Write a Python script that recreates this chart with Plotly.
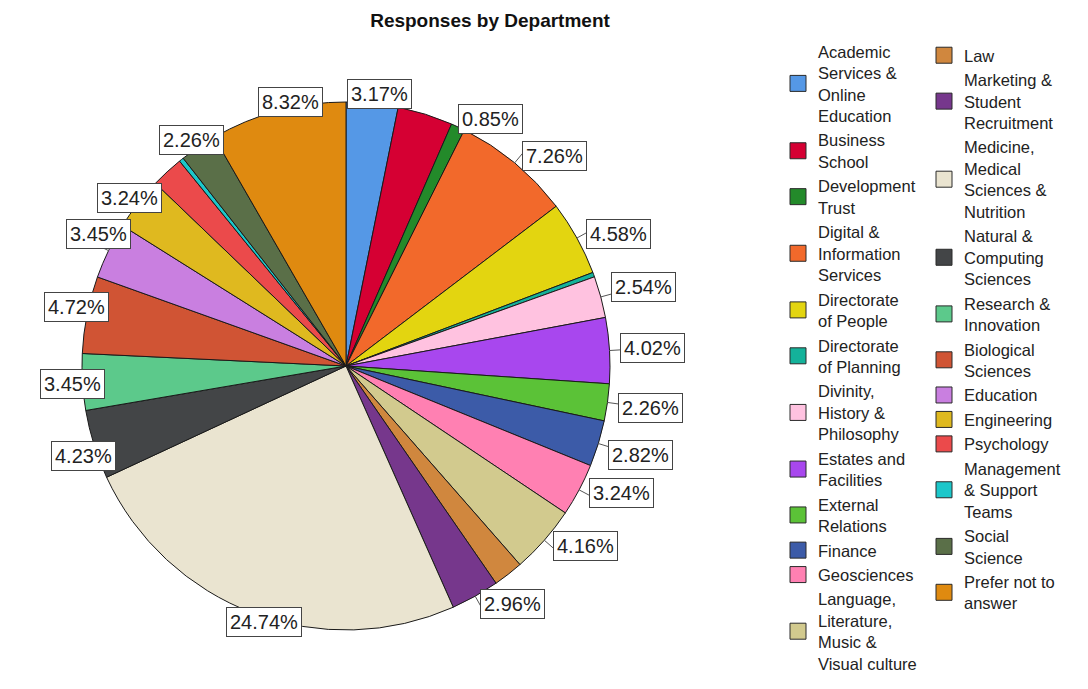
import math
import plotly.graph_objects as go

departments = [
    "Academic Services & Online Education", "Business School", "Development Trust",
    "Digital & Information Services", "Directorate of People", "Directorate of Planning",
    "Divinity, History & Philosophy", "Estates and Facilities", "External Relations",
    "Finance", "Geosciences", "Language, Literature, Music & Visual culture",
    "Law", "Marketing & Student Recruitment", "Medicine, Medical Sciences & Nutrition",
    "Natural & Computing Sciences", "Research & Innovation", "Biological Sciences",
    "Education", "Engineering", "Psychology", "Management & Support Teams",
    "Social Science", "Prefer not to answer",
]
# wrapped the way the legend shows them
legend_names = [
    "Academic<br>Services &<br>Online<br>Education", "Business<br>School", "Development<br>Trust",
    "Digital &<br>Information<br>Services", "Directorate<br>of People", "Directorate<br>of Planning",
    "Divinity,<br>History &<br>Philosophy", "Estates and<br>Facilities", "External<br>Relations",
    "Finance", "Geosciences", "Language,<br>Literature,<br>Music &<br>Visual culture",
    "Law", "Marketing &<br>Student<br>Recruitment", "Medicine,<br>Medical<br>Sciences &<br>Nutrition",
    "Natural &<br>Computing<br>Sciences", "Research &<br>Innovation", "Biological<br>Sciences",
    "Education", "Engineering", "Psychology", "Management<br>& Support<br>Teams",
    "Social<br>Science", "Prefer not to<br>answer",
]
shares = [3.17, 3.38, 0.85, 7.26, 4.58, 0.28, 2.54, 4.02, 2.26, 2.82, 3.24, 4.16,
          1.83, 2.96, 24.74, 4.23, 3.45, 4.72, 3.45, 3.24, 1.98, 0.28, 2.26, 8.32]
# slices that carry a percentage box in the original
labelled = [True, False, True, True, True, False, True, True, True, True, True, True,
            False, True, True, True, True, True, True, True, False, False, True, True]
colors = [
    "#5598E6", "#D50033", "#238A2A", "#F2692B", "#E3D510", "#14B29A",
    "#FFC2E0", "#A847EE", "#5BC237", "#3C5BA8", "#FF80B2", "#D2CA8E",
    "#D0873E", "#76378C", "#EAE4D0", "#434547", "#5CC98B", "#D05434",
    "#C97FE0", "#DFB91F", "#EB4A4B", "#1CC7CA", "#5A6F48", "#DF8A10",
]

# the page body has an 8px margin, so work in window pixels and shift
OFF = 8
W, H = 1088 - 2 * OFF, 689 - 2 * OFF
cx, cy, r = 346 - OFF, 366 - OFF, 264
font_family = "Liberation Sans, Arial, sans-serif"


def px_x(x):
    return x / W


def px_y(y):
    return 1 - y / H


fig = go.Figure()
fig.add_trace(go.Pie(
    labels=departments,
    values=shares,
    sort=False,
    direction='clockwise',
    rotation=0,
    textinfo='none',
    hoverinfo='label+percent',
    showlegend=False,
    marker=dict(colors=colors, line=dict(color='#1a1a1a', width=1)),
    domain=dict(x=[px_x(cx - r), px_x(cx + r)], y=[px_y(cy + r), px_y(cy - r)]),
))

# legend swatches, split over two columns
for i, name in enumerate(legend_names):
    fig.add_trace(go.Scatter(
        x=[None], y=[None],
        mode='markers',
        name=name,
        marker=dict(symbol='square', size=16, color=colors[i], line=dict(color='#2a2a2a', width=1)),
        legend='legend' if i < 12 else 'legend2',
        hoverinfo='skip',
    ))

# boxed percentage labels around the rim
annotations = []
shapes = []
total = sum(shares)
cum = 0.0
box_w, box_h, gap = 68, 30, 9
for v, show in zip(shares, labelled):
    mid = (cum + v / 2) / total * 2 * math.pi
    cum += v
    if not show:
        continue
    s, c = math.sin(mid), math.cos(mid)
    ex, ey = cx + r * s, cy - r * c
    bx = ex + gap * s + box_w / 2 * max(-1, min(1, 2 * s))
    by = ey - gap * c - box_h / 2 * max(-1, min(1, 2 * c))
    shapes.append(dict(type='line', xref='paper', yref='paper',
                       x0=px_x(ex), y0=px_y(ey),
                       x1=px_x(ex + (gap + 4) * s), y1=px_y(ey - (gap + 4) * c),
                       line=dict(color='#555555', width=1)))
    annotations.append(dict(
        x=px_x(bx), y=px_y(by), xref='paper', yref='paper',
        text='%.2f%%' % (v / total * 100),
        showarrow=False,
        font=dict(size=20, color='#222222', family=font_family),
        bgcolor='white', bordercolor='#444444', borderwidth=1, borderpad=3,
    ))

legend_style = dict(
    yanchor='top', xanchor='left', y=px_y(38 - OFF),
    font=dict(size=16.5, color='#222222', family=font_family),
    tracegroupgap=0, itemclick=False, itemdoubleclick=False,
    bgcolor='rgba(0,0,0,0)', valign='middle',
)

fig.update_layout(
    width=W, height=H,
    margin=dict(l=0, r=0, t=0, b=0),
    paper_bgcolor='white', plot_bgcolor='white',
    font=dict(family=font_family),
    title=dict(text='<b>Responses by Department</b>', x=px_x(490 - OFF), y=px_y(20 - OFF),
               xanchor='center', yanchor='middle',
               font=dict(size=19, color='#111111', family=font_family)),
    xaxis=dict(visible=False), yaxis=dict(visible=False),
    legend=dict(x=px_x(778 - OFF), **legend_style),
    legend2=dict(x=px_x(924 - OFF), **legend_style),
    annotations=annotations,
    shapes=shapes,
)

fig.write_html("out.html")
